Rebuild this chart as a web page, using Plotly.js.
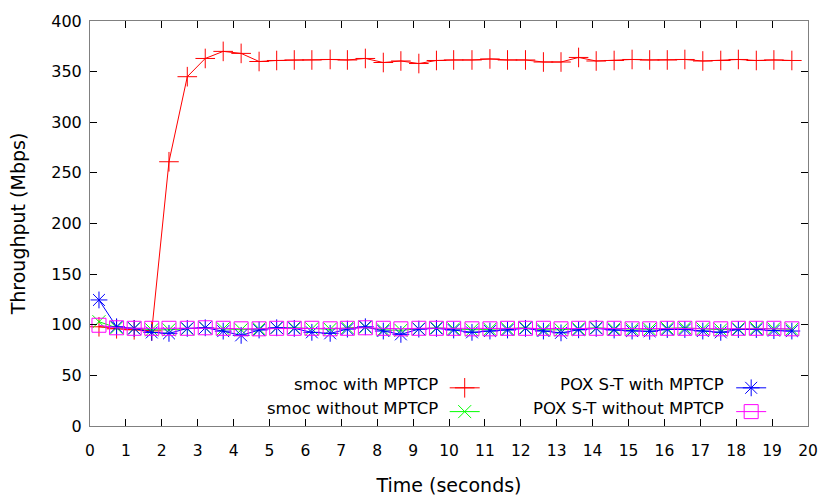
<!DOCTYPE html>
<html><head><meta charset="utf-8">
<script src="https://cdn.plot.ly/plotly-3.0.1.min.js"></script>
<style>html,body{margin:0;padding:0;background:#fff}#chart{width:830px;height:498px}</style>
</head><body><div id="chart"></div>
<script>
const time = [0.25,0.74,1.23,1.72,2.2,2.71,3.21,3.71,4.21,4.71,5.2,5.69,6.18,6.69,7.17,7.67,8.17,8.66,9.16,9.65,10.13,10.64,11.14,11.63,12.13,12.63,13.12,13.61,14.1,14.6,15.1,15.59,16.08,16.57,17.07,17.57,18.06,18.56,19.05,19.55];
const smocWith = [98,96,95,94,261,345,363,370,368,360,361,361.5,361.5,362,361.5,363,359,360.5,358,361,361.5,361.5,362.5,361.5,361.5,359.5,359.5,364,360.5,361,362,361.5,361.5,362,360.5,361,362,361,361.5,361];
const smocWithout = [103,97,96.5,95,95,96,97,96,95,96,97,97,96,95.5,97,97.5,95,94.5,96,97,96,95,95.5,96,97,95,95,96,97,96,95.5,95.5,96.5,97,96,95,96,96.5,96,95.5];
const poxWith = [124.5,98,96.4,92.4,91.5,96.4,97,93.7,89.5,94.8,97,96.4,92.5,91.5,95.7,98,93.8,90.5,95.7,96.4,94.8,92.5,93.8,94.8,96.4,93.8,92,95,96.4,94.8,93.8,93.5,95.3,95.3,93.8,92.5,95.3,95.3,94.2,93.8];
const poxWithout = [99.5,97,96.5,96.5,96.5,96.5,97,96.5,96,96,96.5,96.5,96.5,96,96.5,97,96.5,96,96.5,96.5,96.5,96,96,96.5,96.5,96.5,96,96.5,96.5,96.5,96,96,96.5,96.5,96.5,96,96.5,96.5,96.5,96];
const names = ["smoc with MPTCP","smoc without MPTCP","POX S-T with MPTCP","POX S-T without MPTCP"];
const xTicks = [0,1,2,3,4,5,6,7,8,9,10,11,12,13,14,15,16,17,18,19,20];
const yTicks = [0,50,100,150,200,250,300,350,400];

function tr(y, color, symbol, size, legend){
  return {x: time, y: y, type:'scatter', mode:'lines+markers', name:' ', legend: legend,
    line:{color: color, width:1},
    marker:{symbol: symbol, size: size, color: color, line:{color: color, width:1}}};
}
const data = [
  tr(smocWith,'#ff0000','cross-thin-open',14,'legend'),
  tr(smocWithout,'#00ff00','x-thin-open',13,'legend'),
  tr(poxWith,'#0000ff','asterisk-open',14,'legend2'),
  tr(poxWithout,'#ff00ff','square-open',14,'legend2')
];
const font = {family:'DejaVu Sans, sans-serif', size:16.5, color:'#000'};
const axisCommon = {showgrid:false, zeroline:false, showline:true, linecolor:'#808080', linewidth:1,
  mirror:'ticks', ticks:'inside', ticklen:7, tickcolor:'#000', tickwidth:1};
const layout = {
  width:830, height:498, margin:{l:90, r:22, t:21, b:72},
  paper_bgcolor:'#fff', plot_bgcolor:'#fff', font: {family:'DejaVu Sans, sans-serif', size:16, color:'#000'}, showlegend:true,
  xaxis: Object.assign({}, axisCommon, {range:[0,20], tickvals:xTicks, ticktext:xTicks.map(String),
    ticklabelstandoff:10,
    tickfont:{family:'DejaVu Sans, sans-serif', size:15.5}, title:{text:'Time (seconds)', standoff:20}}),
  yaxis: Object.assign({}, axisCommon, {range:[0,400], tickvals:yTicks, ticktext:yTicks.map(String),
    ticklabelstandoff:4,
    title:{text:'Throughput (Mbps)', standoff:20}}),
  legend:{x:0.494, xanchor:'left', y:0.136, yanchor:'top', bgcolor:'rgba(0,0,0,0)', font:{size:16}, itemwidth:30, tracegroupgap:0},
  legend2:{x:0.893, xanchor:'left', y:0.136, yanchor:'top', bgcolor:'rgba(0,0,0,0)', font:{size:16}, itemwidth:30, tracegroupgap:0},
  annotations:[
    {text:names[0], xref:'paper', yref:'paper', x:0.4875, y:0.1037, xanchor:'right', yanchor:'middle', showarrow:false, font:font},
    {text:names[1], xref:'paper', yref:'paper', x:0.4875, y:0.0444, xanchor:'right', yanchor:'middle', showarrow:false, font:font},
    {text:names[2], xref:'paper', yref:'paper', x:0.8858, y:0.1037, xanchor:'right', yanchor:'middle', showarrow:false, font:font},
    {text:names[3], xref:'paper', yref:'paper', x:0.8858, y:0.0444, xanchor:'right', yanchor:'middle', showarrow:false, font:font}
  ]
};
Plotly.newPlot('chart', data, layout, {displayModeBar:false, staticPlot:true});
</script></body></html>
